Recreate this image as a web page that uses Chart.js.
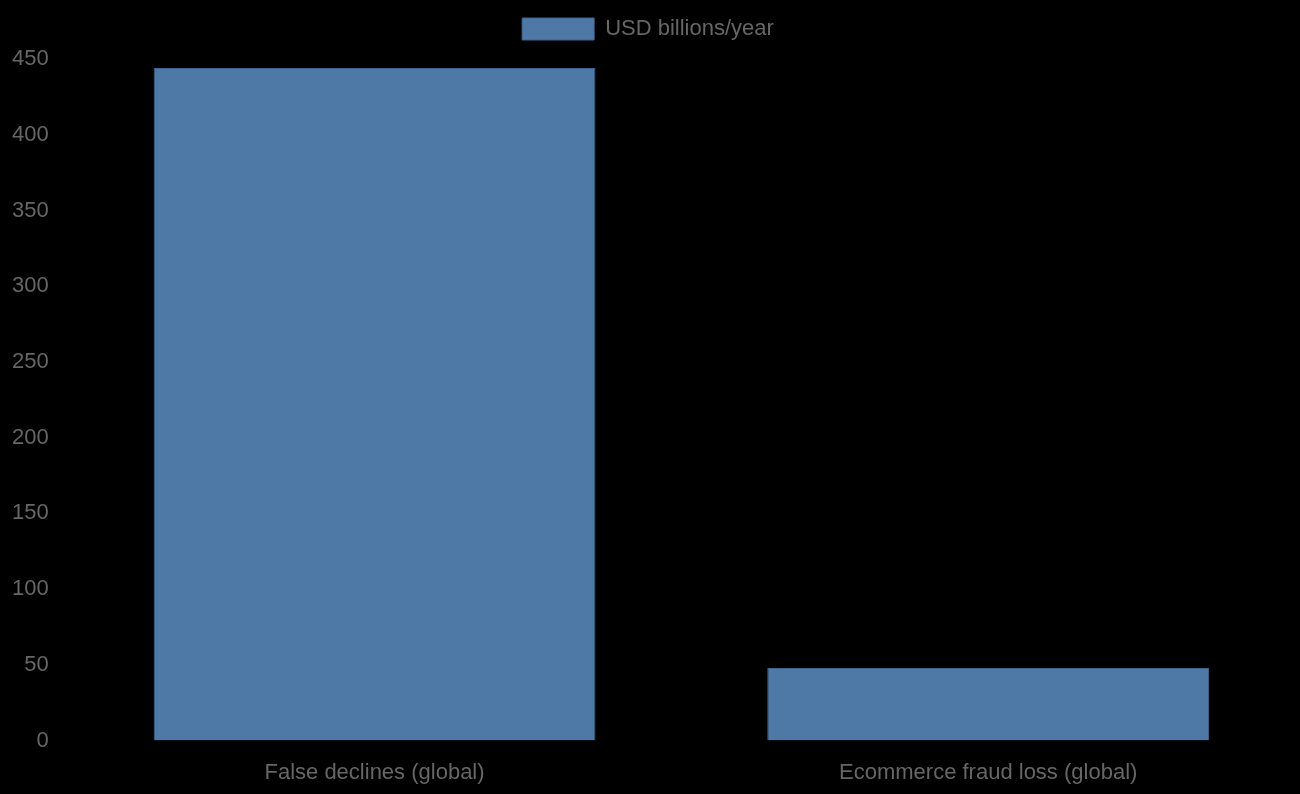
<!DOCTYPE html>
<html>
<head>
<meta charset="utf-8">
<script src="https://cdn.jsdelivr.net/npm/chart.js@4"></script>
<style>
  html, body { margin: 0; padding: 0; background: #000; }
  #wrap { width: 1300px; height: 794px; }
</style>
</head>
<body>
<div id="wrap"><canvas id="chart"></canvas></div>
<script>
// Daten
const categories = ['False declines (global)', 'Ecommerce fraud loss (global)'];
const seriesLabel = 'USD billions/year';
const seriesValues = [444, 48];
const yMax = 450;
const yStep = 50;

const barColor = '#4e79a7';
const barBorder = '#3f6690';
const textColor = '#666';
const fontSpec = { family: 'Liberation Sans', size: 22 };

// Legende etwas mehr Abstand nach unten geben
const legendGap = {
    id: 'legendGap',
    beforeInit(chart) {
        const origFit = chart.legend.fit;
        chart.legend.fit = function () {
            origFit.bind(chart.legend)();
            this.height += 9;
        };
    }
};

new Chart(document.getElementById('chart'), {
    type: 'bar',
    data: {
        labels: categories,
        datasets: [{
            label: seriesLabel,
            data: seriesValues,
            backgroundColor: barColor,
            borderColor: barBorder,
            borderWidth: 1
        }]
    },
    options: {
        responsive: true,
        maintainAspectRatio: false,
        animation: false,
        layout: { padding: { left: 1, right: 5, top: 8, bottom: -3 } },
        plugins: {
            legend: {
                display: true,
                position: 'top',
                labels: {
                    color: textColor,
                    font: fontSpec,
                    boxWidth: 72,
                    boxHeight: 22
                }
            },
            tooltip: { enabled: false }
        },
        scales: {
            x: {
                grid: { display: false },
                border: { display: false },
                ticks: {
                    padding: 11,
                    color: textColor,
                    font: fontSpec
                }
            },
            y: {
                min: 0,
                max: yMax,
                grid: { display: false },
                border: { display: false },
                ticks: {
                    stepSize: yStep,
                    padding: 11,
                    color: textColor,
                    font: fontSpec
                }
            }
        }
    },
    plugins: [legendGap]
});
</script>
</body>
</html>
